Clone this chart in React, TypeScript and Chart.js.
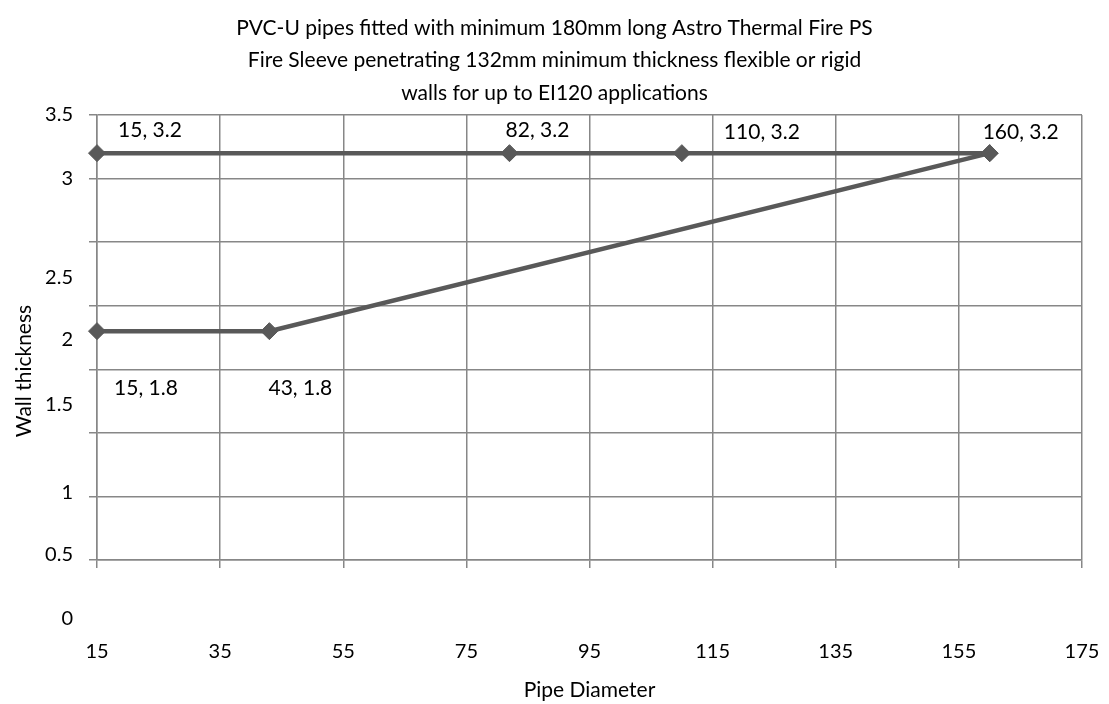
import React, { useEffect, useRef } from "react";
import { Chart, registerables } from "chart.js";

Chart.register(...registerables);

// ---- data ----
const titleLines = [
  "PVC-U pipes fitted with minimum 180mm long Astro Thermal Fire PS",
  "Fire Sleeve penetrating 132mm minimum thickness flexible or rigid",
  "walls for up to EI120 applications",
];
const upperX = [15, 82, 110, 160];
const upperY = [3.2, 3.2, 3.2, 3.2];
const lowerX = [15, 43, 160];
const lowerY = [1.8, 1.8, 3.2];
const xTickValues = [15, 35, 55, 75, 95, 115, 135, 155, 175];
const yGridValues = [0, 0.5, 1, 1.5, 2, 2.5, 3, 3.5];
const yTickLabels = ["3.5", "3", "2.5", "2", "1.5", "1", "0.5", "0"];
const yTickLabelAt = [3.5, 3.0, 2.22, 1.73, 1.22, 0.53, 0.04, -0.46];
const xTitle = "Pipe Diameter";
const yTitle = "Wall thickness";

// ---- layout / style ----
const FONT = "Lato";
const TEXT = "#000000";
const LINE = "#595959";
const GRID = "#878787";
const upperLabelOffsets = [
  [53, -23],
  [28, -23],
  [80, -21],
  [31, -21],
];
const lowerLabelOffsets = [
  [49, 57],
  [31, 57],
];

const overlayPlugin = {
  id: "overlay",
  afterDraw(chart: any) {
    const ctx = chart.ctx;
    const xs = chart.scales.x;
    const ys = chart.scales.y;
    ctx.save();
    ctx.fillStyle = TEXT;
    // title
    ctx.font = `21px ${FONT}`;
    ctx.textAlign = "center";
    ctx.textBaseline = "middle";
    titleLines.forEach((t, i) => ctx.fillText(t, chart.width / 2, 28 + i * 32.5));
    // y tick labels
    ctx.font = `20px ${FONT}`;
    ctx.textAlign = "right";
    yTickLabels.forEach((t, i) => ctx.fillText(t, 73, ys.getPixelForValue(yTickLabelAt[i])));
    // axis titles
    ctx.font = `21px ${FONT}`;
    ctx.textAlign = "center";
    ctx.fillText(xTitle, (chart.chartArea.left + chart.chartArea.right) / 2, 690);
    ctx.save();
    ctx.translate(24, 371);
    ctx.rotate(-Math.PI / 2);
    ctx.fillText(yTitle, 0, 0);
    ctx.restore();
    // data labels
    ctx.font = `21px ${FONT}`;
    upperX.forEach((x, i) => {
      const px = xs.getPixelForValue(x) + upperLabelOffsets[i][0];
      const py = ys.getPixelForValue(upperY[i]) + upperLabelOffsets[i][1];
      ctx.fillText(`${x}, ${upperY[i]}`, px, py);
    });
    lowerX.slice(0, 2).forEach((x, i) => {
      const px = xs.getPixelForValue(x) + lowerLabelOffsets[i][0];
      const py = ys.getPixelForValue(lowerY[i]) + lowerLabelOffsets[i][1];
      ctx.fillText(`${x}, ${lowerY[i]}`, px, py);
    });
    ctx.restore();
  },
};

export default function App() {
  const ref = useRef<HTMLCanvasElement>(null);
  useEffect(() => {
    const ds = (xv: number[], yv: number[]) => ({
      data: xv.map((x, i) => ({ x, y: yv[i] })),
      borderColor: LINE,
      backgroundColor: LINE,
      borderWidth: 4.5,
      pointStyle: "rectRot" as const,
      pointRadius: 8.5,
      pointBackgroundColor: LINE,
      pointBorderColor: LINE,
      pointBorderWidth: 1,
      tension: 0,
      clip: false as const,
    });
    const chart = new Chart(ref.current!, {
      type: "line",
      data: { datasets: [ds(upperX, upperY), ds(lowerX, lowerY)] },
      options: {
        animation: false,
        responsive: true,
        maintainAspectRatio: false,
        layout: { padding: { top: 115, right: 27, left: 0, bottom: 0 } },
        plugins: { legend: { display: false }, title: { display: false }, tooltip: { enabled: false } },
        scales: {
          x: {
            type: "linear",
            min: 15,
            max: 175,
            afterBuildTicks: (s: any) => {
              s.ticks = xTickValues.map((v) => ({ value: v }));
            },
            afterFit: (s: any) => {
              s.height = 144;
              s.paddingLeft = 0;
              s.paddingRight = 0;
            },
            grid: { color: GRID, lineWidth: 1.5, tickLength: 8, tickColor: GRID },
            border: { color: GRID, width: 1.5 },
            ticks: {
              autoSkip: false,
              maxRotation: 0,
              padding: 72,
              color: TEXT,
              font: { family: FONT, size: 20 },
              callback: (v: any) => String(v),
            },
          },
          y: {
            type: "linear",
            min: 0,
            max: 3.5,
            afterBuildTicks: (s: any) => {
              s.ticks = yGridValues.map((v) => ({ value: v }));
            },
            afterFit: (s: any) => {
              s.width = 97;
              s.paddingTop = 0;
              s.paddingBottom = 0;
            },
            grid: { color: GRID, lineWidth: 1.5, tickLength: 8, tickColor: GRID },
            border: { color: GRID, width: 1.5 },
            ticks: { display: false },
          },
        },
      },
      plugins: [overlayPlugin],
    });
    return () => chart.destroy();
  }, []);
  return (
    <div style={{ position: "fixed", left: 0, top: 0, width: 1109, height: 704, background: "#fff" }}>
      <canvas ref={ref} />
    </div>
  );
}
